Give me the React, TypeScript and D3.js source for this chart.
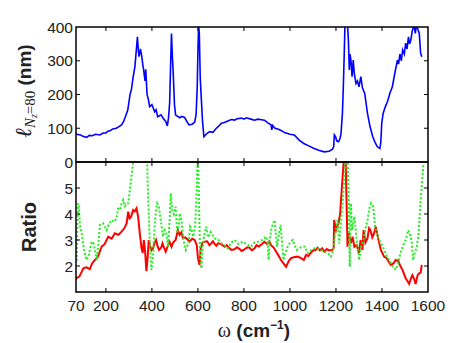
import * as d3 from "d3";

// omega (cm^-1) grid for the top curve and its length values (nm)
const blueX = [70, 73, 90, 100, 116, 128, 140, 155, 174, 188, 200, 210, 217, 230, 245, 255, 268, 277, 285, 295, 305, 311, 318, 326, 332, 337, 341, 344, 350, 356, 360, 364, 370, 373, 379, 385, 390, 400, 412, 418, 425, 440, 448, 460, 467, 472, 477, 481, 485, 489, 492, 498, 503, 512, 521, 530, 542, 552, 561, 575, 586, 592, 597, 600, 603, 606, 610, 615, 620, 626, 640, 651, 665, 680, 690, 702, 715, 725, 745, 760, 770, 790, 800, 810, 830, 846, 860, 870, 889, 900, 905, 918, 921, 925, 935, 950, 965, 976, 1000, 1019, 1040, 1060, 1084, 1105, 1128, 1149, 1170, 1185, 1190, 1193, 1198, 1204, 1211, 1218, 1222, 1228, 1232, 1236, 1239, 1244, 1250, 1254, 1258, 1261, 1265, 1270, 1275, 1280, 1287, 1293, 1300, 1308, 1315, 1325, 1337, 1348, 1360, 1372, 1380, 1391, 1395, 1399, 1405, 1415, 1424, 1435, 1445, 1455, 1467, 1472, 1478, 1484, 1490, 1497, 1503, 1509, 1515, 1520, 1525, 1532, 1539, 1545, 1549, 1555, 1562, 1568, 1573];
const blueY = [85, 82, 80, 76, 73, 79, 78, 82, 80, 86, 86, 92, 92, 98, 100, 104, 110, 120, 135, 154, 200, 215, 250, 282, 330, 371, 330, 312, 335, 312, 290, 273, 240, 275, 200, 184, 164, 170, 149, 155, 134, 140, 130, 120, 107, 130, 175, 280, 381, 310, 273, 170, 139, 135, 131, 135, 132, 120, 110, 112, 118, 140, 223, 330, 405, 380, 250, 184, 120, 75, 85, 90, 88, 100, 106, 115, 117, 120, 126, 124, 128, 130, 127, 131, 127, 124, 127, 126, 124, 118, 115, 110, 95, 108, 100, 97, 92, 87, 82, 80, 65, 55, 47, 40, 34, 30, 32, 38, 45, 80, 75, 62, 60, 70, 85, 144, 223, 323, 405, 420, 410, 361, 273, 320, 302, 253, 302, 260, 233, 240, 223, 253, 220, 203, 144, 105, 75, 55, 45, 40, 60, 115, 144, 165, 179, 205, 223, 260, 302, 290, 320, 300, 332, 320, 352, 335, 371, 350, 360, 390, 405, 381, 405, 395, 381, 322, 312];

// ratio curves
const redX = [70, 73, 85, 102, 115, 130, 140, 152, 165, 181, 195, 210, 225, 239, 255, 268, 280, 290, 297, 303, 310, 318, 325, 333, 340, 348, 355, 360, 365, 370, 376, 382, 386, 391, 398, 405, 412, 418, 425, 431, 440, 446, 453, 460, 468, 477, 485, 492, 503, 513, 520, 528, 535, 545, 557, 564, 575, 586, 595, 600, 607, 612, 620, 629, 640, 650, 658, 665, 672, 680, 687, 700, 716, 725, 735, 745, 759, 770, 780, 790, 802, 815, 825, 835, 846, 855, 865, 878, 889, 900, 910, 918, 930, 940, 950, 961, 972, 983, 995, 1005, 1020, 1034, 1048, 1060, 1070, 1080, 1090, 1100, 1113, 1120, 1130, 1140, 1149, 1160, 1170, 1185, 1190, 1192, 1200, 1211, 1218, 1222, 1228, 1234, 1242, 1246, 1250, 1256, 1265, 1272, 1280, 1290, 1300, 1307, 1315, 1320, 1328, 1337, 1344, 1350, 1358, 1366, 1373, 1385, 1395, 1409, 1420, 1438, 1450, 1460, 1470, 1480, 1489, 1503, 1512, 1518, 1525, 1532, 1540, 1546, 1555, 1562, 1568, 1573];
const redY = [1.5, 1.53, 1.6, 1.91, 1.95, 1.88, 2.1, 2.23, 2.35, 2.74, 2.85, 3.13, 3.05, 3.26, 3.2, 3.32, 3.45, 3.64, 4.09, 3.83, 3.9, 4.15, 4.1, 4.22, 3.9, 3.2, 2.68, 2.5, 3.0, 2.6, 1.8, 2.4, 3.0, 2.81, 2.6, 2.68, 2.9, 3.0, 2.75, 2.62, 2.7, 2.87, 2.7, 2.55, 2.75, 2.93, 2.74, 2.9, 3.0, 3.38, 3.2, 3.3, 3.07, 3.1, 3.0, 2.94, 3.05, 3.0, 2.8, 2.3, 2.04, 2.68, 2.9, 2.93, 2.95, 2.8, 2.87, 2.95, 2.85, 2.78, 2.87, 2.85, 2.74, 2.8, 2.7, 2.62, 2.64, 2.72, 2.66, 2.58, 2.64, 2.72, 2.7, 2.6, 2.68, 2.8, 2.75, 2.85, 2.93, 2.85, 2.95, 2.8, 2.7, 2.55, 2.4, 2.23, 2.1, 1.97, 2.2, 2.3, 2.35, 2.36, 2.3, 2.23, 2.42, 2.38, 2.5, 2.6, 2.62, 2.7, 2.6, 2.68, 2.55, 2.65, 2.6, 2.62, 2.7, 3.77, 3.38, 3.64, 4.0, 4.54, 5.31, 6.1, 6.1, 4.5, 2.74, 3.26, 2.87, 3.13, 2.74, 2.8, 2.5, 3.0, 2.62, 3.38, 2.9, 3.07, 3.45, 3.38, 3.1, 3.26, 3.51, 3.0, 2.62, 2.36, 2.3, 2.04, 2.1, 2.23, 2.2, 2.0, 1.85, 1.53, 1.4, 1.31, 1.5, 1.65, 1.5, 1.31, 1.65, 1.72, 1.75, 2.04];

const greenX = [70, 73, 78, 82, 88, 95, 105, 116, 125, 138, 145, 152, 160, 168, 174, 188, 203, 212, 225, 235, 246, 252, 261, 268, 275, 283, 290, 297, 304, 312, 318, 322, 375, 379, 382, 388, 394, 398, 404, 412, 418, 423, 430, 438, 448, 455, 462, 470, 476, 482, 488, 495, 503, 510, 516, 521, 528, 535, 541, 547, 555, 561, 566, 572, 580, 587, 589, 593, 596, 599, 602, 604, 608, 611, 615, 620, 626, 636, 645, 655, 672, 690, 702, 715, 730, 745, 759, 775, 795, 810, 831, 845, 860, 880, 896, 902, 907, 912, 918, 925, 933, 938, 944, 950, 959, 965, 972, 980, 990, 1000, 1012, 1020, 1030, 1042, 1055, 1065, 1077, 1090, 1106, 1120, 1135, 1150, 1165, 1178, 1188, 1193, 1200, 1207, 1214, 1220, 1228, 1236, 1242, 1250, 1255, 1260, 1265, 1270, 1280, 1290, 1301, 1310, 1320, 1330, 1337, 1345, 1352, 1362, 1370, 1380, 1388, 1400, 1410, 1420, 1431, 1445, 1460, 1470, 1480, 1492, 1503, 1514, 1522, 1528, 1535, 1542, 1550, 1558, 1563, 1568, 1574, 1578, 1582];
const greenY = [2.2, 2.23, 4.41, 4.3, 3.5, 3.26, 2.6, 2.23, 2.4, 2.93, 2.9, 2.62, 2.23, 2.9, 3.58, 3.64, 3.38, 3.6, 3.77, 3.7, 3.83, 4.2, 4.15, 4.4, 4.54, 4.3, 4.41, 4.41, 4.92, 5.5, 5.95, 6.2, 6.2, 6.0, 5.05, 3.51, 2.3, 1.85, 2.23, 3.5, 4.2, 4.41, 4.28, 3.8, 3.13, 3.38, 3.3, 2.74, 3.6, 4.8, 4.15, 4.0, 4.28, 3.26, 3.5, 4.03, 3.77, 3.2, 2.8, 2.62, 2.8, 3.0, 3.51, 3.4, 3.13, 3.5, 3.77, 4.6, 5.44, 6.2, 5.5, 4.8, 3.0, 2.2, 1.91, 2.6, 3.13, 3.51, 3.1, 3.3, 3.07, 3.0, 2.87, 2.8, 2.68, 2.9, 3.0, 2.85, 2.93, 2.85, 2.74, 2.9, 2.93, 3.0, 3.13, 3.0, 2.23, 3.0, 3.38, 3.6, 3.77, 3.3, 2.74, 3.1, 3.58, 3.0, 2.23, 2.5, 2.74, 2.9, 3.0, 2.8, 2.62, 2.7, 2.74, 2.75, 2.49, 2.6, 2.68, 2.65, 2.62, 2.55, 2.5, 2.36, 2.6, 3.0, 3.4, 3.77, 2.87, 3.51, 4.3, 5.31, 6.2, 6.2, 4.8, 1.97, 4.41, 3.38, 3.9, 3.0, 2.23, 2.8, 3.0, 3.5, 3.77, 4.2, 4.41, 4.28, 3.51, 3.2, 3.0, 2.8, 2.62, 2.4, 2.23, 2.0, 1.85, 2.1, 2.49, 2.8, 3.0, 3.38, 3.2, 3.0, 2.23, 2.49, 2.7, 3.13, 3.8, 4.54, 5.2, 5.69, 6.2];

const xTicks = [70, 200, 400, 600, 800, 1000, 1200, 1400, 1600];
const topTicks = [0, 100, 200, 300, 400];
const ratioTicks = [2, 3, 4, 5];

const W = 458;
const H = 343;
const left = 76;
const right = 428;
const topY0 = 27;
const midY = 162;
const botY1 = 292;
const tick = 4;
const labelFont = "'Liberation Sans', Arial, sans-serif";
const serif = "'Liberation Serif', 'Times New Roman', serif";

export default function App() {
  const x = d3.scaleLinear().domain([70, 1600]).range([left, right]);
  const yTop = d3.scaleLinear().domain([0, 400]).range([midY, topY0]);
  const yBot = d3.scaleLinear().domain([1, 6]).range([botY1, midY]);

  const blueLine = d3
    .line<number>()
    .x((d, i) => x(blueX[i]))
    .y((d) => yTop(d));
  const redLine = d3
    .line<number>()
    .x((d, i) => x(redX[i]))
    .y((d) => yBot(d));
  const greenLine = d3
    .line<number>()
    .x((d, i) => x(greenX[i]))
    .y((d) => yBot(d));

  const innerTicks = xTicks.filter((t) => t > 70 && t < 1600);

  return (
    <svg
      width={W}
      height={H}
      style={{ position: "absolute", left: 0, top: 0, background: "#fff" }}
    >
      <defs>
        <clipPath id="clipTop">
          <rect x={left} y={topY0} width={right - left} height={midY - topY0} />
        </clipPath>
        <clipPath id="clipBot">
          <rect x={left} y={midY} width={right - left} height={botY1 - midY} />
        </clipPath>
      </defs>

      {/* curves */}
      <path
        d={blueLine(blueY) || ""}
        fill="none"
        stroke="#0000ff"
        strokeWidth={1.6}
        clipPath="url(#clipTop)"
      />
      <g clipPath="url(#clipBot)">
        <path d={redLine(redY) || ""} fill="none" stroke="#ff0000" strokeWidth={2} />
        <path
          d={greenLine(greenY) || ""}
          fill="none"
          stroke="#22ee22"
          strokeWidth={2}
          strokeDasharray="2 2"
        />
      </g>

      {/* frames */}
      <rect x={left} y={topY0} width={right - left} height={midY - topY0} fill="none" stroke="#000" strokeWidth={1.5} />
      <rect x={left} y={midY} width={right - left} height={botY1 - midY} fill="none" stroke="#000" strokeWidth={1.5} />

      {/* x ticks, inward on every horizontal edge */}
      {innerTicks.map((t) => (
        <g key={"xt" + t} stroke="#000" strokeWidth={1}>
          <line x1={x(t)} x2={x(t)} y1={topY0} y2={topY0 + tick} />
          <line x1={x(t)} x2={x(t)} y1={midY} y2={midY - tick} />
          <line x1={x(t)} x2={x(t)} y1={midY} y2={midY + tick} />
          <line x1={x(t)} x2={x(t)} y1={botY1} y2={botY1 - tick} />
        </g>
      ))}
      {topTicks.slice(1, 4).map((t) => (
        <g key={"yt" + t} stroke="#000" strokeWidth={1}>
          <line x1={left} x2={left + tick} y1={yTop(t)} y2={yTop(t)} />
          <line x1={right} x2={right - tick} y1={yTop(t)} y2={yTop(t)} />
        </g>
      ))}
      {ratioTicks.map((t) => (
        <g key={"rt" + t} stroke="#000" strokeWidth={1}>
          <line x1={left} x2={left + tick} y1={yBot(t)} y2={yBot(t)} />
          <line x1={right} x2={right - tick} y1={yBot(t)} y2={yBot(t)} />
        </g>
      ))}

      {/* tick labels */}
      <g fontFamily={labelFont} fontSize={15.5} fill="#222">
        {xTicks.map((t) => (
          <text key={"xl" + t} x={x(t)} y={311} textAnchor="middle">
            {t}
          </text>
        ))}
        {topTicks.map((t) => (
          <text key={"tl" + t} x={left - 3} y={yTop(t) + 5.5} textAnchor="end">
            {t}
          </text>
        ))}
        {ratioTicks.map((t) => (
          <text key={"rl" + t} x={left - 3} y={yBot(t) + 5.5} textAnchor="end">
            {t}
          </text>
        ))}
      </g>

      {/* axis titles */}
      <text transform="translate(31,91) rotate(-90)" textAnchor="middle" fill="#222">
        <tspan fontFamily={serif} fontStyle="italic" fontSize={23}>ℓ</tspan>
        <tspan fontFamily={serif} fontStyle="italic" fontSize={15} dy={4}>N</tspan>
        <tspan fontFamily={serif} fontStyle="italic" fontSize={10} dy={2}>z</tspan>
        <tspan fontFamily={serif} fontSize={15} dy={-2}>=80</tspan>
        <tspan fontFamily={labelFont} fontWeight="bold" fontSize={19} dy={-4}> (nm)</tspan>
      </text>
      <text
        transform="translate(36,227) rotate(-90)"
        textAnchor="middle"
        fontFamily={labelFont}
        fontWeight="bold"
        fontSize={20}
        fill="#222"
      >
        Ratio
      </text>
      <text x={254} y={337} textAnchor="middle" fill="#222">
        <tspan fontFamily={serif} fontSize={20}>ω</tspan>
        <tspan fontFamily={labelFont} fontWeight="bold" fontSize={19}> (cm</tspan>
        <tspan fontFamily={labelFont} fontWeight="bold" fontSize={12} dy={-8}>−1</tspan>
        <tspan fontFamily={labelFont} fontWeight="bold" fontSize={19} dy={8}>)</tspan>
      </text>
    </svg>
  );
}
